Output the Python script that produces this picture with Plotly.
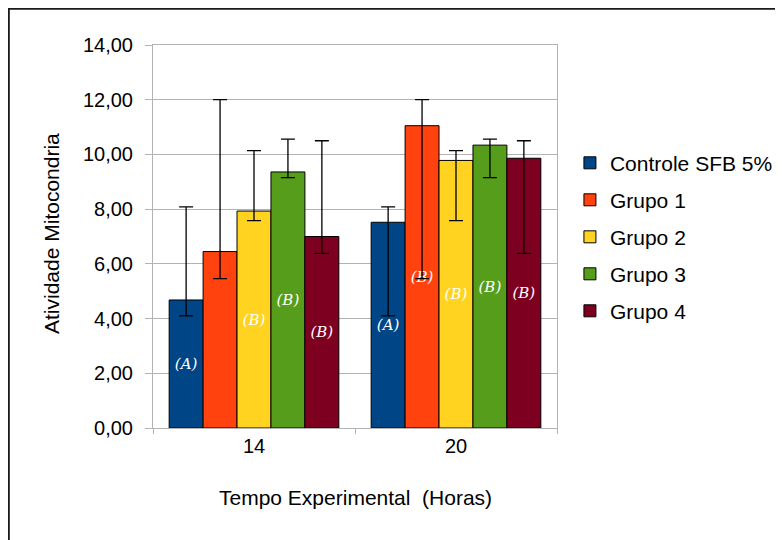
import plotly.graph_objects as go

categories = ["14", "20"]
series_names = ["Controle SFB 5%", "Grupo 1", "Grupo 2", "Grupo 3", "Grupo 4"]
controle = [4.68, 7.52]
grupo1 = [6.45, 11.05]
grupo2 = [7.93, 9.78]
grupo3 = [9.36, 10.34]
grupo4 = [7.00, 9.86]
# error bar limits (upper / lower absolute values)
controle_hi = [8.08, 8.08]
controle_lo = [4.10, 4.10]
grupo1_hi = [12.00, 12.00]
grupo1_lo = [5.46, 5.46]
grupo2_hi = [10.14, 10.14]
grupo2_lo = [7.58, 7.58]
grupo3_hi = [10.56, 10.56]
grupo3_lo = [9.15, 9.15]
grupo4_hi = [10.50, 10.50]
grupo4_lo = [6.38, 6.38]
# letters inside bars
controle_lbl = ["(A)", "(A)"]
grupo1_lbl = ["", "(B)"]
grupo2_lbl = ["(B)", "(B)"]
grupo3_lbl = ["(B)", "(B)"]
grupo4_lbl = ["(B)", "(B)"]

colors = ["#004586", "#ff420e", "#ffd320", "#579d1c", "#7e0021"]
values = [controle, grupo1, grupo2, grupo3, grupo4]
his = [controle_hi, grupo1_hi, grupo2_hi, grupo3_hi, grupo4_hi]
los = [controle_lo, grupo1_lo, grupo2_lo, grupo3_lo, grupo4_lo]
lbls = [controle_lbl, grupo1_lbl, grupo2_lbl, grupo3_lbl, grupo4_lbl]

FONT = "Liberation Sans, Arial, sans-serif"
GRID = "#b3b3b3"

# plot area in figure pixels
L, T, R, B = 145, 37, 549, 420
W, H = R - L, B - T

fig = go.Figure()
for name, v, hi, lo, lb, c in zip(series_names, values, his, los, lbls, colors):
    fig.add_trace(go.Bar(
        name=name, x=categories, y=v,
        marker=dict(color=c, line=dict(color="#000000", width=1)),
        error_y=dict(type="data", symmetric=False,
                     array=[h - a for h, a in zip(hi, v)],
                     arrayminus=[a - l for a, l in zip(v, lo)],
                     color="#000000", thickness=1.3, width=7),
        text=lb, textposition="inside", insidetextanchor="middle", textangle=0,
        textfont=dict(family="DejaVu Serif", size=15, color="#ffffff", style="italic"),
        legendgroup=name,
    ))

fig.update_layout(
    width=783, height=540,
    margin=dict(l=L, r=783 - R, t=T, b=540 - B),
    paper_bgcolor="white", plot_bgcolor="white",
    barmode="group", bargap=0.16, bargroupgap=0,
    separators=",.",
    font=dict(family=FONT, color="#000000"),
    legend=dict(x=1.032, y=0.745, xanchor="left", yanchor="top",
                font=dict(family=FONT, size=21, color="#000000"),
                tracegroupgap=6.7, bgcolor="rgba(0,0,0,0)"),
    showlegend=True,
    xaxis=dict(type="category", showline=True, mirror=True, linecolor=GRID, linewidth=1,
               ticks="outside", tickson="boundaries", ticklen=5, tickcolor=GRID,
               tickfont=dict(family=FONT, size=20), showgrid=False),
    yaxis=dict(range=[0, 14], dtick=2, tickformat=".2f", showline=True, mirror=True,
               linecolor=GRID, linewidth=1, ticks="outside", ticklen=7, tickcolor=GRID,
               showgrid=True, gridcolor=GRID, gridwidth=1, zeroline=False,
               tickfont=dict(family=FONT, size=20), ticklabelstandoff=8),
    annotations=[
        dict(text="Tempo Experimental  (Horas)", xref="paper", yref="paper",
             x=0.5, y=(B - 489) / H, xanchor="center", yanchor="middle",
             showarrow=False, font=dict(family=FONT, size=21)),
        dict(text="Atividade Mitocondria", xref="paper", yref="paper",
             x=(43 - L) / W, y=(B - 226) / H, xanchor="center", yanchor="middle",
             textangle=-90, showarrow=False, font=dict(family=FONT, size=21)),
    ],
    shapes=[dict(type="rect", xref="paper", yref="paper",
                 x0=(0.8 - L) / W, x1=1.7, y0=-0.5, y1=(B - 0.8) / H,
                 line=dict(color="#1a1a1a", width=2), fillcolor="rgba(0,0,0,0)",
                 layer="below")],
)

fig.write_html("out.html")
